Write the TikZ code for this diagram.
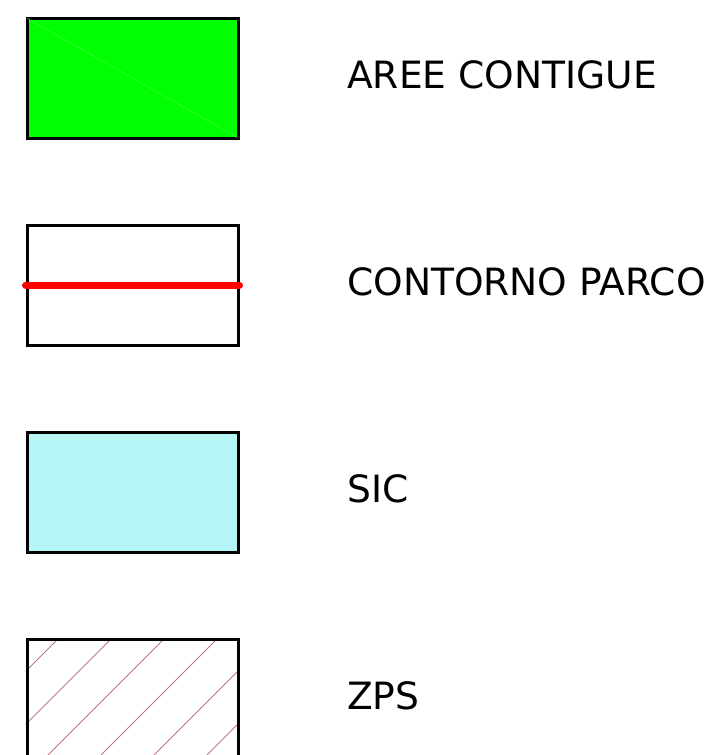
\documentclass[tikz,border=0pt]{standalone}
\usepackage{fontspec}
\setmainfont{DejaVu Sans}
\usetikzlibrary{positioning}
\definecolor{contiguegreen}{RGB}{0,255,0}
\definecolor{sicblue}{RGB}{181,246,246}
\definecolor{zpshatch}{RGB}{190,120,124}
\begin{document}
\begin{tikzpicture}[x=1pt,y=-1pt,node distance=207pt,on grid,
		legbox/.style={rectangle,draw=black,line width=3pt,minimum width=211pt,minimum height=120pt,inner sep=0pt},
		legtext/.style={anchor=west,inner sep=0pt,font=\fontsize{37.6}{40}\selectfont}]
		\useasboundingbox (0,0) rectangle (712,755);
		
		\node[legbox,fill=contiguegreen] (contigue)  at (132.5,78) 	{};
		\node[legbox,fill=white]	(parco)   [below=of contigue] 	{};
		\node[legbox,fill=sicblue]	(sic)     [below=of parco]     	{};
		\node[legbox,fill=white]	(zps)     [below=of sic]      	{};
		
		% faint seam in the green fill
		\draw[green!75!white,line width=0.5pt] ([xshift=2pt,yshift=-2pt]contigue.north west) -- ([xshift=-2pt,yshift=2pt]contigue.south east);
		
		% red boundary line
		\draw[red,line width=7pt,line cap=round] (parco.west) -- (parco.east);
		
		% hatching
		\begin{scope}
		\clip (zps.north west) rectangle (zps.south east);
		\foreach \c in {697,750,...,1000}
			\draw[zpshatch,line width=0.9pt] (\c-639,639) -- (\c-639-140,779);
		\end{scope}
		\node[legbox] at (zps) {};
		
		\node[legtext] (lcontigue) at (347,75)  {AREE CONTIGUE};
		\node[legtext] (lparco)    at (347,282) {CONTORNO PARCO};
		\node[legtext] (lsic)      at (347,489) {SIC};
		\node[legtext] (lzps)      at (347,696) {ZPS};
\end{tikzpicture}
\end{document}
